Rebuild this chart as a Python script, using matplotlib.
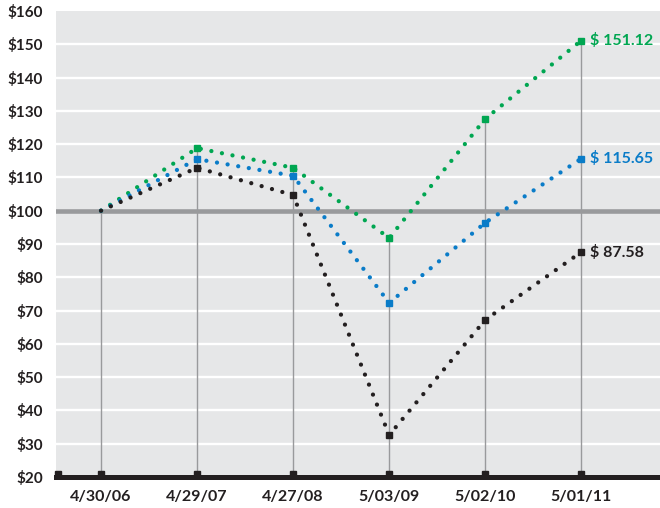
import matplotlib
matplotlib.use("Agg")
import matplotlib.pyplot as plt
import matplotlib.transforms as mtransforms

# Cumulative value of a $100 investment at each fiscal year end
dates = ["4/30/06", "4/29/07", "4/27/08", "5/03/09", "5/02/10", "5/01/11"]
company = [100, 112.9, 104.7, 32.6, 67.2, 87.58]
index_a = [100, 115.5, 110.5, 72.3, 96.4, 115.65]
index_b = [100, 118.8, 112.9, 91.8, 127.6, 151.12]
end_labels = ["$ 87.58", "$ 115.65", "$ 151.12"]

y_ticks = list(range(20, 170, 10))
y_labels = [f"${v}" for v in y_ticks]

GREEN = "#00a651"
BLUE = "#0a7cc8"
BLACK = "#231f20"
GRID_GRAY = "#999a9c"
BG = "#e6e7e8"

plt.rcParams["font.family"] = ["Lato", "DejaVu Sans"]
plt.rcParams["font.weight"] = "bold"

fig = plt.figure(figsize=(6.6, 5.08), dpi=100)
ax = fig.add_axes([56 / 660, 31 / 508, 604 / 660, 466 / 508])
ax.set_facecolor(BG)

x = list(range(len(dates)))
ax.set_xlim(-0.469, 5.82)
ax.set_ylim(20, 160)

# white horizontal gridlines
for v in y_ticks[1:-1]:
    ax.axhline(v, color="white", lw=1.7, zorder=1)

# baseline of $100
ax.axhline(100, color=GRID_GRAY, lw=3.3, zorder=2)

# vertical drop lines from the highest value at each date
tops = [max(a, b, c) for a, b, c in zip(company, index_a, index_b)]
for xi, t in zip(x, tops):
    ax.plot([xi, xi], [20, t], color=GRID_GRAY, lw=1.0, zorder=3)

dot_style = (0, (0.001, 2.5))
for series, color in [(index_b, GREEN), (index_a, BLUE), (company, BLACK)]:
    ax.plot(x, series, color=color, lw=3.1, linestyle=dot_style,
            dash_capstyle="round", zorder=4)
    ax.plot(x[1:], series[1:], color=color, lw=0, marker="s",
            markersize=4.3, zorder=5)

for series, color, lab in zip([company, index_a, index_b],
                              [BLACK, BLUE, GREEN], end_labels):
    ax.annotate(lab, xy=(x[-1], series[-1]), xytext=(6.5, 0),
                textcoords="offset points", color=color, fontsize=11.5,
                fontweight="bold", va="center", ha="left", zorder=6)

# heavy bottom axis with square date ticks
ax.axhline(20, color=BLACK, lw=3.6, zorder=6, clip_on=False)
up = mtransforms.ScaledTranslation(0, 3.5 / 100, fig.dpi_scale_trans)
ax.plot([-0.445] + x, [20] * (len(x) + 1), lw=0, marker="s",
        markersize=3.8, color=BLACK, clip_on=False, zorder=6,
        transform=ax.transData + up)

for s in ax.spines.values():
    s.set_visible(False)

ax.set_yticks(y_ticks)
ax.set_yticklabels(y_labels)
ax.set_xticks(x)
ax.set_xticklabels(dates)
ax.tick_params(axis="both", length=0, labelsize=11, colors=BLACK)
ax.tick_params(axis="x", labelsize=11.5)
ax.tick_params(axis="y", pad=9.5)
ax.tick_params(axis="x", pad=9)
for t in ax.get_xticklabels() + ax.get_yticklabels():
    t.set_fontweight("bold")

fig.savefig("out.png", dpi=100)
